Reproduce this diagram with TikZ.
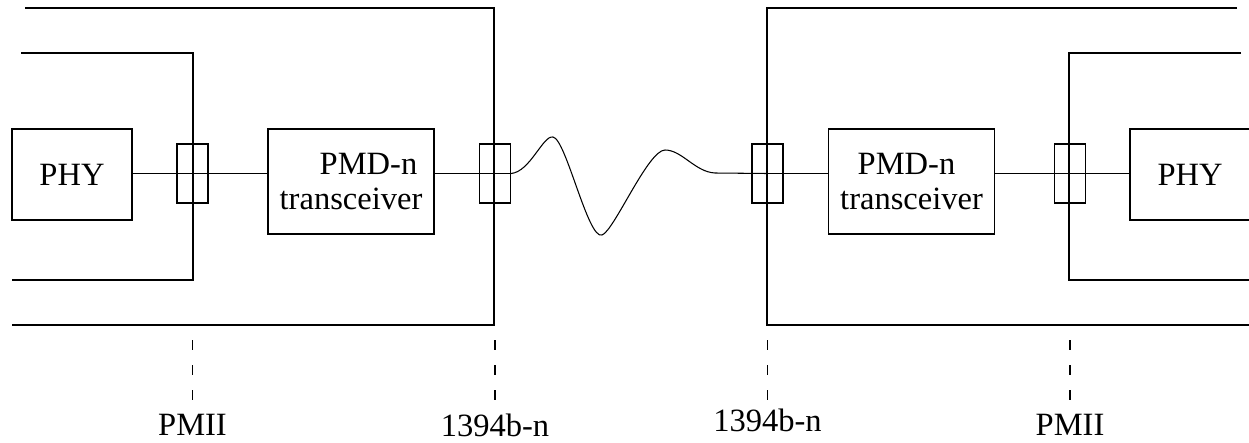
\documentclass[tikz,border=0pt]{standalone}
\usepackage{fontspec}
\setmainfont{Liberation Serif}
\usetikzlibrary{positioning}

\begin{document}
\begin{tikzpicture}[x=0.2mm,y=-0.2mm,line width=0.6pt,font=\fontsize{18.5}{19.5}\selectfont]
  \tikzstyle{block}=[draw,inner sep=0pt,align=center]
  \tikzstyle{phy}=[block,minimum width=24mm,minimum height=18.2mm]
  \tikzstyle{pmd}=[block,minimum width=33.2mm,minimum height=21mm]
  \tikzstyle{plug}=[draw,inner sep=0pt,minimum width=6.2mm,minimum height=11.8mm]
  \tikzstyle{tick}=[dash pattern=on 2mm off 3mm]
  \useasboundingbox (0,0) rectangle (1249,442);
  % enclosures
  \draw (25,8) -| (494,325) -- (12,325);
  \draw (21,53) -| (193,280) -- (12,280);
  \draw (1237,8) -| (767,325) -- (1249,325);
  \draw (1241,53) -| (1069,280) -- (1249,280);
  % blocks
  \node[phy] (phyL) at (72,174.5) {PHY};
  \node[plug] (plugA) at (192.5,173.5) {};
  \node[pmd] (pmdL) at (351,181.5) {\hspace*{7mm}PMD-n\\transceiver};
  \node[plug] (plugB) at (495,173.5) {};
  \node[plug] (plugC) at (767.5,173.5) {};
  \node[pmd] (pmdR) at (911.5,181.5) {PMD-n\hspace*{2mm}\\transceiver};
  \node[plug] (plugD) at (1070,173.5) {};
  \node[phy] (phyR) at (1190,174.5) {PHY};
  % links
  \draw (phyL.east |- plugA) -- (pmdL.west |- plugA);
  \draw (pmdL.east |- plugB) -- (plugB.east);
  \draw (plugB.east) .. controls (530,172) and (543,135) .. (553,137)
    .. controls (566,139) and (588,240) .. (602,235)
    .. controls (614,231) and (648,150) .. (665,150)
    .. controls (682,150) and (695,172) .. (715,173) -- (plugC.center);
  \draw (plugC.center) -- (pmdR.west |- plugC);
  \draw (pmdR.east |- plugD) -- (phyR.west |- plugD);
  % reference points
  \foreach \p/\t/\yb in {plugA/PMII/435,plugB/1394b-n/436,plugC/1394b-n/431,plugD/PMII/435} {
    \draw[tick] (\p |- 0,340) -- (\p |- 0,402);
    \node[anchor=base] (lbl\p) at (\p |- 0,\yb) {\t};
  }
\end{tikzpicture}
\end{document}
